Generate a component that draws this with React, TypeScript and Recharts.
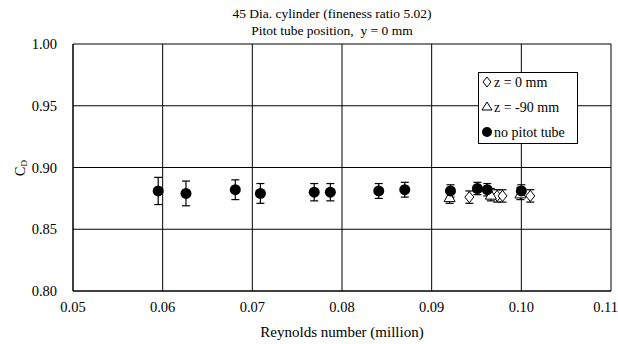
import React from 'react'
import { ScatterChart, Scatter, XAxis, YAxis, CartesianGrid, ErrorBar } from 'recharts'

const xTicks = [0.05, 0.06, 0.07, 0.08, 0.09, 0.1, 0.11]
const yTicks = [0.8, 0.85, 0.9, 0.95, 1.0]

// z = 0 mm (open diamonds)
const zeroRe = [0.0942, 0.0973, 0.0979, 0.101]
const zeroCd = [0.876, 0.877, 0.877, 0.877]
const zeroErr = [0.005, 0.005, 0.005, 0.005]

// z = -90 mm (open triangles)
const minusRe = [0.092, 0.0966, 0.0999]
const minusCd = [0.876, 0.878, 0.879]
const minusErr = [0.005, 0.005, 0.005]

// no pitot tube (filled circles)
const noneRe = [0.0595, 0.0626, 0.0681, 0.0709, 0.0769, 0.0787, 0.0841, 0.0870, 0.0921, 0.0951, 0.0962, 0.1]
const noneCd = [0.881, 0.879, 0.882, 0.879, 0.88, 0.88, 0.881, 0.882, 0.881, 0.883, 0.882, 0.881]
const noneErr = [0.011, 0.01, 0.008, 0.008, 0.007, 0.007, 0.006, 0.006, 0.005, 0.005, 0.005, 0.005]

const build = (re: number[], cd: number[], err: number[]) =>
  re.map((r, i) => ({ re: r, cd: cd[i], err: err[i] }))

const font = '"Liberation Serif", "Times New Roman", serif'

const Diamond = (p: any) => (
  <path d={`M${p.cx},${p.cy - 5.5} L${p.cx + 4.5},${p.cy} L${p.cx},${p.cy + 5.5} L${p.cx - 4.5},${p.cy} Z`} fill="#fff" stroke="#000" strokeWidth={1} />
)
const Triangle = (p: any) => (
  <path d={`M${p.cx},${p.cy - 5.5} L${p.cx + 5.5},${p.cy + 4.5} L${p.cx - 5.5},${p.cy + 4.5} Z`} fill="#fff" stroke="#000" strokeWidth={1} />
)
const Dot = (p: any) => <circle cx={p.cx} cy={p.cy} r={5.5} fill="#000" />

const LegendBox = () => (
  <div style={{ position: 'absolute', left: 478, top: 72, width: 100, height: 72, border: '1px solid #000', background: '#fff', boxSizing: 'border-box' }}>
    <svg width={98} height={70} style={{ position: 'absolute', left: 0, top: 0 }}>
      <path d="M8,4 L12,9 L8,14 L4,9 Z" fill="#fff" stroke="#000" />
      <path d="M8,29 L13,37 L3,37 Z" fill="#fff" stroke="#000" />
      <circle cx={8} cy={59} r={5} fill="#000" />
      <text x={15} y={14} fontFamily={font} fontSize={14}>z = 0 mm</text>
      <text x={15} y={39} fontFamily={font} fontSize={14}>z = -90 mm</text>
      <text x={15} y={64} fontFamily={font} fontSize={14}>no pitot tube</text>
    </svg>
  </div>
)

export default function App() {
  return (
    <div style={{ position: 'absolute', left: 0, top: 0, width: 618, height: 344, background: '#fff', fontFamily: font }}>
      <div style={{ position: 'absolute', left: 0, width: 664, top: 5, textAlign: 'center', fontSize: 13.5, lineHeight: '17px' }}>
        45 Dia. cylinder (fineness ratio 5.02)<br />Pitot tube position,&nbsp; y = 0 mm
      </div>
      <ScatterChart width={618} height={344} margin={{ top: 44, right: 7, bottom: 0, left: 33 }}>
        <CartesianGrid stroke="#000" strokeWidth={1} />
        <XAxis
          type="number"
          dataKey="re"
          domain={[0.05, 0.11]}
          ticks={xTicks}
          tickFormatter={(v: number) => v.toFixed(2)}
          tickLine={false}
          tickSize={2}
          tickMargin={9}
          height={53}
          stroke="#000"
          tick={{ fill: '#000', fontSize: 14.5, fontFamily: font }}
          allowDataOverflow
          label={{ value: 'Reynolds number (million)', position: 'insideBottom', offset: 7, fill: '#000', fontSize: 15, fontFamily: font }}
        />
        <YAxis
          type="number"
          dataKey="cd"
          domain={[0.8, 1.0]}
          ticks={yTicks}
          tickFormatter={(v: number) => v.toFixed(2)}
          tickLine={false}
          tickSize={6}
          tickMargin={10}
          width={40}
          stroke="#000"
          tick={{ fill: '#000', fontSize: 14.5, fontFamily: font }}
          allowDataOverflow
          label={() => (
            <text x={25} y={168} transform="rotate(-90 25 168)" textAnchor="middle" fontFamily={font} fontSize={14} fill="#000">
              C<tspan fontSize={9} dy={2}>D</tspan>
            </text>
          )}
        />
        <Scatter data={build(zeroRe, zeroCd, zeroErr)} shape={Diamond} isAnimationActive={false}>
          <ErrorBar dataKey="err" direction="y" width={4} stroke="#000" strokeWidth={1.2} />
        </Scatter>
        <Scatter data={build(minusRe, minusCd, minusErr)} shape={Triangle} isAnimationActive={false}>
          <ErrorBar dataKey="err" direction="y" width={4} stroke="#000" strokeWidth={1.2} />
        </Scatter>
        <Scatter data={build(noneRe, noneCd, noneErr)} shape={Dot} isAnimationActive={false}>
          <ErrorBar dataKey="err" direction="y" width={4} stroke="#000" strokeWidth={1.2} />
        </Scatter>
      </ScatterChart>
      <LegendBox />
    </div>
  )
}
